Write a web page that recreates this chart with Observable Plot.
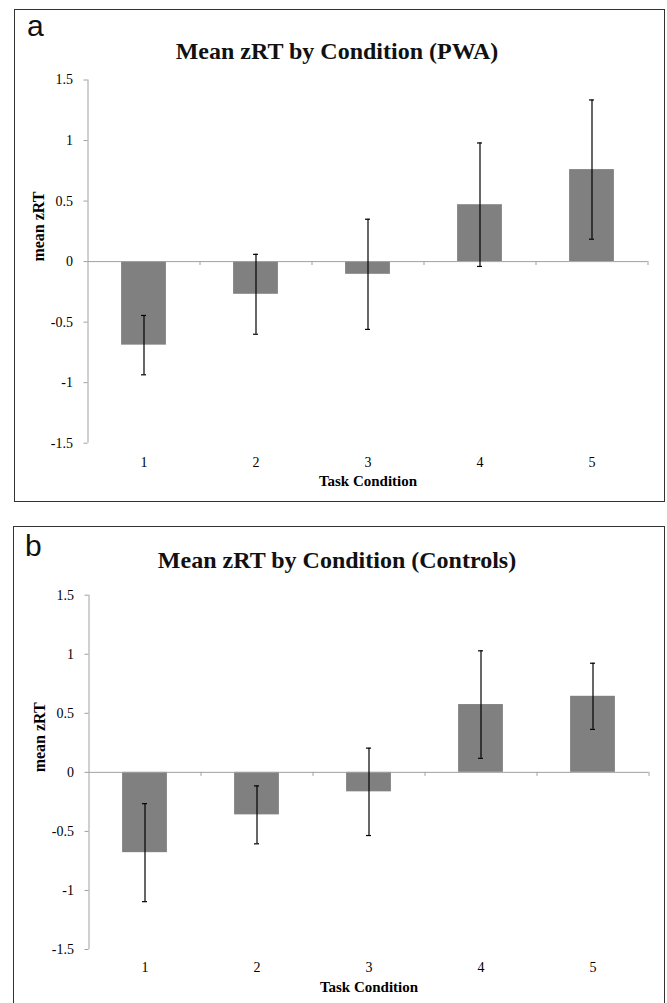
<!DOCTYPE html>
<html><head><meta charset="utf-8">
<script src="https://cdn.jsdelivr.net/npm/d3@7"></script>
<script src="https://cdn.jsdelivr.net/npm/@observablehq/plot@0.6"></script>
<style>
html,body{margin:0;padding:0;background:#fff;}
body{width:667px;height:1003px;overflow:hidden;position:relative;font-family:"Liberation Serif","Times New Roman",serif;}
.box{position:absolute;border:1.5px solid #333;box-sizing:border-box;}
.letter{position:absolute;font-family:"Liberation Sans",Arial,sans-serif;font-size:30px;line-height:30px;color:#111;}
.title{position:absolute;left:0;width:674px;text-align:center;font-weight:bold;font-size:24px;line-height:24px;color:#111;font-family:"Liberation Serif","Times New Roman",serif;}
.plot{position:absolute;left:0;}
.plot svg, .plot svg text{font-family:"Liberation Serif","Times New Roman",serif !important;}
.plot svg g[aria-label="y-axis tick label"] text, .plot svg g[aria-label="x-axis tick label"] text{font-size:14px !important;font-variant:normal !important;}
</style></head><body>
<div class="box" style="left:14px;top:9px;width:651px;height:493px;"></div>
<div class="box" style="left:13px;top:526px;width:652px;height:500px;"></div>
<div class="letter" style="left:27px;top:11px;">a</div>
<div class="letter" style="left:25px;top:531px;">b</div>
<div class="title" style="top:39px;">Mean zRT by Condition (PWA)</div>
<div class="title" style="top:548px;">Mean zRT by Condition (Controls)</div>
<div class="plot" id="pa" style="top:60px;"></div>
<div class="plot" id="pb" style="top:575px;"></div>
<script>
const conditions = [1, 2, 3, 4, 5];
const pwaMean = [-0.69, -0.27, -0.105, 0.47, 0.76];
const pwaErr = [0.245, 0.33, 0.455, 0.51, 0.575];
const ctlMean = [-0.68, -0.36, -0.165, 0.574, 0.644];
const ctlErr = [0.415, 0.245, 0.37, 0.455, 0.28];
const yTicks = [-1.5, -1, -0.5, 0, 0.5, 1, 1.5];
const boundaries = [1.5, 2.5, 3.5, 4.5, 5.5];
const xLabel = "Task Condition";
const yLabel = "mean zRT";

const axisGray = "#a0a0a0";
const half = 0.2;

function panel(mean, err, cfg) {
  const rows = conditions.map((c, i) => ({c, m: mean[i], lo: mean[i] - err[i], hi: mean[i] + err[i]}));
  return Plot.plot({
    width: 667,
    height: cfg.height,
    marginLeft: cfg.left,
    marginRight: 667 - cfg.right,
    marginTop: cfg.mt,
    marginBottom: cfg.mb,
    style: {fontFamily: '"Liberation Serif", "Times New Roman", serif', fontSize: "14px", color: "#000", background: "transparent", overflow: "visible"},
    x: {type: "linear", domain: [0.5, 5.5]},
    y: {domain: [-1.5, 1.5]},
    marks: [
      Plot.rectY(rows, {x1: d => d.c - half, x2: d => d.c + half, y1: 0, y2: "m", fill: "#808080"}),
      Plot.ruleY([0], {stroke: axisGray}),
      Plot.ruleX(boundaries, {x: d => d, y1: 0, y2: 0, insetBottom: -4, stroke: axisGray}),
      Plot.ruleX([0.5], {y1: -1.5, y2: 1.5, stroke: axisGray}),
      Plot.axisY({ticks: yTicks, tickSize: 4, tickPadding: 11, tickFormat: d => String(d), stroke: axisGray, label: null, fontSize: 14}),
      Plot.axisX({ticks: conditions, tickSize: 0, tickPadding: cfg.tp, tickFormat: d => String(d), label: null, fontSize: 14}),
      Plot.ruleX(rows, {x: "c", y1: "lo", y2: "hi", stroke: "#000", strokeWidth: 1.2}),
      Plot.ruleY(rows, {x1: "c", x2: "c", y: "lo", insetLeft: -2.5, insetRight: -2.5, stroke: "#000", strokeWidth: 1.2}),
      Plot.ruleY(rows, {x1: "c", x2: "c", y: "hi", insetLeft: -2.5, insetRight: -2.5, stroke: "#000", strokeWidth: 1.2}),
      Plot.text([xLabel], {frameAnchor: "bottom", dy: cfg.ld, fontWeight: "bold", fontSize: 15, fill: "#000"}),
      Plot.text([yLabel], {frameAnchor: "left", dx: -49, rotate: -90, fontWeight: "bold", fontSize: 16, fill: "#000"})
    ]
  });
}

document.getElementById("pa").appendChild(panel(pwaMean, pwaErr, {height: 440, left: 87.5, right: 647.5, mt: 19.5, mb: 57.3, tp: 14, ld: 43}));
document.getElementById("pb").appendChild(panel(ctlMean, ctlErr, {height: 428, left: 88.5, right: 648.5, mt: 19.7, mb: 54, tp: 13, ld: 42}));
</script>
</body></html>
